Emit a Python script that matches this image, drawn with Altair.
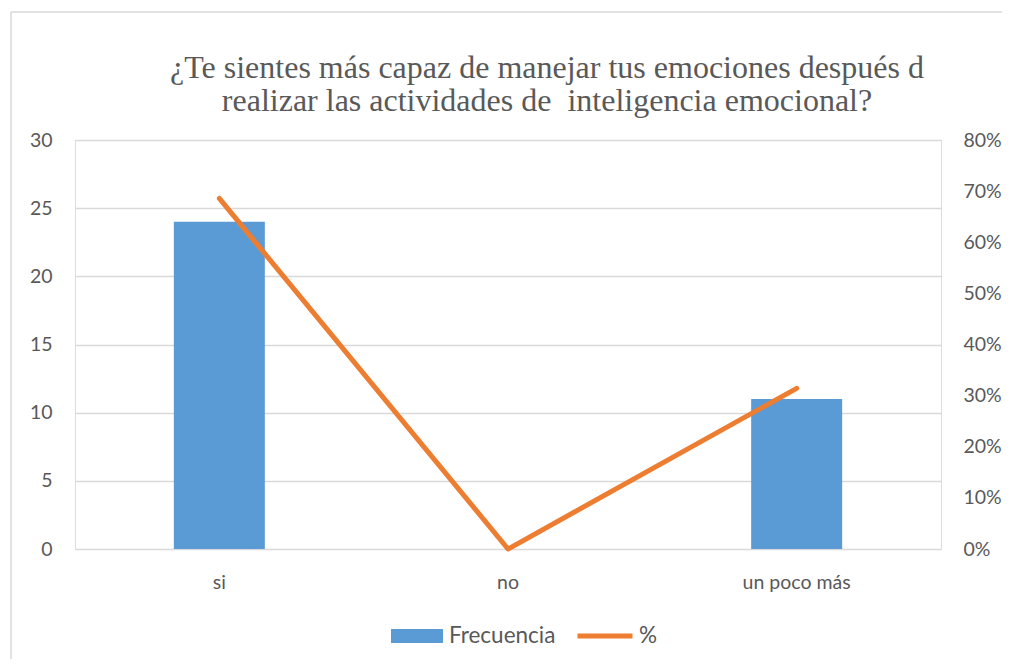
import altair as alt
import pandas as pd

categorias = ["si", "no", "un poco más"]
frecuencia = [24, 0, 11]
porcentaje = [0.6857, 0.0, 0.3143]

titulo = ("¿Te sientes más capaz de manejar tus emociones después d\n"
          "realizar las actividades de\u00a0 inteligencia emocional?")

df = pd.DataFrame({"cat": categorias, "Frecuencia": frecuencia, "pct": porcentaje})

GRAY = "#595959"
GRID = "#D9D9D9"
FONT = "Lato"
AX = 19.5
LG = 22.5

x = alt.X("cat:N", sort=categorias, title=None,
          scale=alt.Scale(paddingInner=0, paddingOuter=0),
          axis=alt.Axis(labelAngle=0, ticks=False, domain=False, labelPadding=24,
                        labelFont=FONT, labelFontSize=AX, labelColor=GRAY))

bars = alt.Chart(df).transform_calculate(serie="'Frecuencia'").mark_bar(size=91).encode(
    x=x,
    y=alt.Y("Frecuencia:Q", title=None,
            scale=alt.Scale(domain=[0, 30], nice=False),
            axis=alt.Axis(values=[0, 5, 10, 15, 20, 25, 30], ticks=False, domain=False,
                          labelPadding=23, labelFont=FONT, labelFontSize=AX,
                          labelColor=GRAY, grid=True, gridColor=GRID, gridWidth=1.3)),
    color=alt.Color("serie:N", scale=alt.Scale(domain=["Frecuencia"], range=["#5B9BD5"]),
                    legend=alt.Legend(title=None, orient="none", legendX=316, legendY=470,
                                      symbolType="M-1,-0.27H1V0.27H-1Z", symbolSize=2704,
                                      symbolStrokeWidth=0, labelFont=FONT, labelFontSize=LG,
                                      labelColor=GRAY, labelOffset=6, padding=0)),
)

line = alt.Chart(df).transform_calculate(serie2="'%'").mark_line(
    strokeWidth=5, strokeCap="round", strokeJoin="round").encode(
    x=x,
    y=alt.Y("pct:Q", title=None,
            scale=alt.Scale(domain=[0, 0.8], nice=False),
            axis=alt.Axis(orient="right", values=[0, .1, .2, .3, .4, .5, .6, .7, .8],
                          format=".0%", ticks=False, domain=False, grid=False,
                          labelPadding=22, labelFont=FONT, labelFontSize=AX,
                          labelColor=GRAY)),
    color=alt.Color("serie2:N", scale=alt.Scale(domain=["%"], range=["#ED7D31"]),
                    legend=alt.Legend(title=None, orient="none", legendX=500, legendY=466,
                                      symbolType="stroke", symbolSize=3025,
                                      symbolStrokeWidth=5, labelFont=FONT, labelFontSize=LG,
                                      labelColor=GRAY, labelOffset=4, padding=0)),
)

border = pd.DataFrame({"k": [0]})
top_rule = alt.Chart(border).mark_rule(color=GRID, strokeWidth=1.5).encode(
    x=alt.value(-64), x2=alt.value(927), y=alt.value(-128))
left_rule = alt.Chart(border).mark_rule(color=GRID, strokeWidth=1.5).encode(
    x=alt.value(-64), y=alt.value(-128), y2=alt.value(519))

title = alt.Chart(border).mark_text(
    font="Liberation Serif", fontSize=32, color=GRAY, align="center",
    baseline="alphabetic", lineBreak="\n", lineHeight=33).encode(
    x=alt.value(472), y=alt.value(-62), text=alt.value(titulo))

chart = alt.layer(top_rule, left_rule, title, bars, line).resolve_scale(
    y="independent", color="independent"
).properties(
    width=866, height=409,
    autosize=alt.AutoSizeParams(type="none"),
    padding={"left": 67, "top": 132, "right": 61, "bottom": 110},
).configure_view(stroke=None).configure(background="white")

chart.save("out.html", embed_options={"renderer": "svg", "actions": False})
